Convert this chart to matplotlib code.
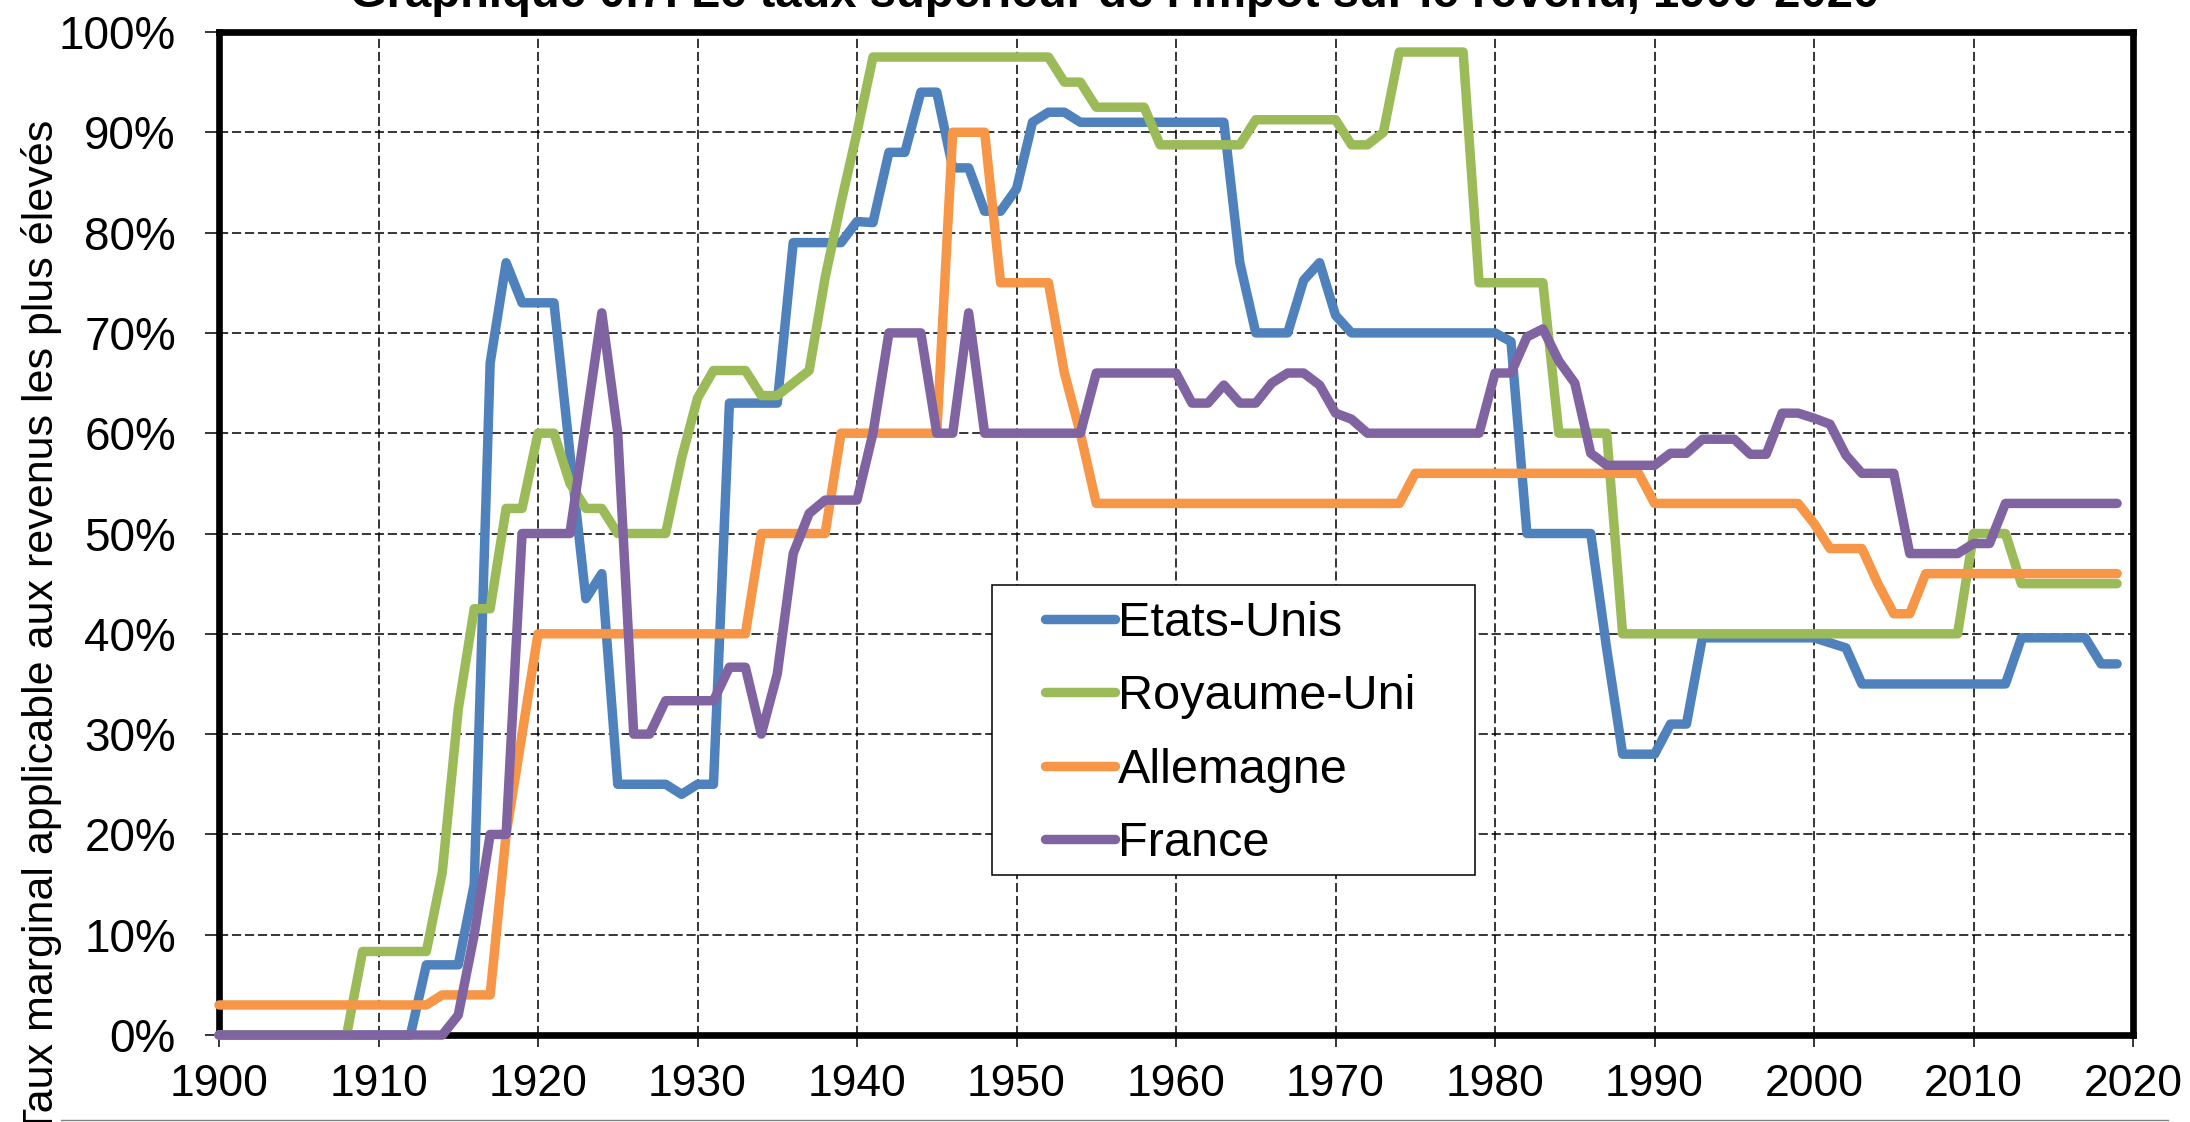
import matplotlib
matplotlib.use("Agg")
import matplotlib.pyplot as plt
from matplotlib.patches import Rectangle
from matplotlib.lines import Line2D
from matplotlib.ticker import PercentFormatter, MultipleLocator

plt.rcParams['font.family'] = ['Liberation Sans', 'DejaVu Sans']

YEARS = list(range(1900, 2020))

# taux supérieur, en %
etats_unis = [
    0, 0, 0, 0, 0, 0, 0, 0, 0, 0,
    0, 0, 0, 7, 7, 7, 15, 67, 77, 73,
    73, 73, 58, 43.5, 46, 25, 25, 25, 25, 24,
    25, 25, 63, 63, 63, 63, 79, 79, 79, 79,
    81.1, 81, 88, 88, 94, 94, 86.45, 86.45, 82.13, 82.13,
    84.36, 91, 92, 92, 91, 91, 91, 91, 91, 91,
    91, 91, 91, 91, 77, 70, 70, 70, 75.25, 77,
    71.75, 70, 70, 70, 70, 70, 70, 70, 70, 70,
    70, 69.13, 50, 50, 50, 50, 50, 38.5, 28, 28,
    28, 31, 31, 39.6, 39.6, 39.6, 39.6, 39.6, 39.6, 39.6,
    39.6, 39.1, 38.6, 35, 35, 35, 35, 35, 35, 35,
    35, 35, 35, 39.6, 39.6, 39.6, 39.6, 39.6, 37, 37,
]
royaume_uni = [
    0, 0, 0, 0, 0, 0, 0, 0, 0, 8.33,
    8.33, 8.33, 8.33, 8.33, 16.25, 32.5, 42.5, 42.5, 52.5, 52.5,
    60, 60, 55, 52.5, 52.5, 50, 50, 50, 50, 57.5,
    63.5, 66.25, 66.25, 66.25, 63.75, 63.75, 65, 66.25, 75.5, 83,
    90, 97.5, 97.5, 97.5, 97.5, 97.5, 97.5, 97.5, 97.5, 97.5,
    97.5, 97.5, 97.5, 95, 95, 92.5, 92.5, 92.5, 92.5, 88.75,
    88.75, 88.75, 88.75, 88.75, 88.75, 91.25, 91.25, 91.25, 91.25, 91.25,
    91.25, 88.75, 88.75, 90, 98, 98, 98, 98, 98, 75,
    75, 75, 75, 75, 60, 60, 60, 60, 40, 40,
    40, 40, 40, 40, 40, 40, 40, 40, 40, 40,
    40, 40, 40, 40, 40, 40, 40, 40, 40, 40,
    50, 50, 50, 45, 45, 45, 45, 45, 45, 45,
]
allemagne = [
    3, 3, 3, 3, 3, 3, 3, 3, 3, 3,
    3, 3, 3, 3, 4, 4, 4, 4, 20, 30,
    40, 40, 40, 40, 40, 40, 40, 40, 40, 40,
    40, 40, 40, 40, 50, 50, 50, 50, 50, 60,
    60, 60, 60, 60, 60, 60, 90, 90, 90, 75,
    75, 75, 75, 66, 60, 53, 53, 53, 53, 53,
    53, 53, 53, 53, 53, 53, 53, 53, 53, 53,
    53, 53, 53, 53, 53, 56, 56, 56, 56, 56,
    56, 56, 56, 56, 56, 56, 56, 56, 56, 56,
    53, 53, 53, 53, 53, 53, 53, 53, 53, 53,
    51, 48.5, 48.5, 48.5, 45, 42, 42, 46, 46, 46,
    46, 46, 46, 46, 46, 46, 46, 46, 46, 46,
]
france = [
    0, 0, 0, 0, 0, 0, 0, 0, 0, 0,
    0, 0, 0, 0, 0, 2, 10, 20, 20, 50,
    50, 50, 50, 61, 72, 60, 30, 30, 33.33, 33.33,
    33.33, 33.33, 36.67, 36.67, 30, 36, 48, 52, 53.33, 53.33,
    53.33, 60, 70, 70, 70, 60, 60, 72, 60, 60,
    60, 60, 60, 60, 60, 66, 66, 66, 66, 66,
    66, 63, 63, 64.8, 63, 63, 65, 66, 66, 64.8,
    62, 61.4, 60, 60, 60, 60, 60, 60, 60, 60,
    66, 66, 69.6, 70.4, 67.2, 65, 58, 56.8, 56.8, 56.8,
    56.8, 58, 58, 59.4, 59.4, 59.4, 57.9, 57.9, 62, 62,
    61.5, 60.9, 57.8, 56, 56, 56, 48, 48, 48, 48,
    49, 49, 53, 53, 53, 53, 53, 53, 53, 53,
]

series = {
    "Etats-Unis": (etats_unis, "#4F81BD"),
    "Royaume-Uni": (royaume_uni, "#9BBB59"),
    "Allemagne": (allemagne, "#F79646"),
    "France": (france, "#8064A2"),
}

TITLE = "Graphique 0.7. Le taux supérieur de l'impôt sur le revenu, 1900-2020"
YLABEL = "Taux marginal applicable aux revenus les plus élevés"

fig = plt.figure(figsize=(21.9, 11.22), dpi=100)
ax = fig.add_axes([0.1, 0.0775, 0.874, 0.894])

for label, (values, color) in series.items():
    ax.plot(YEARS, values, color=color, lw=6.8, label=label, zorder=3,
            clip_on=False, solid_joinstyle='round', solid_capstyle='round')

ax.set_xlim(1900, 2020)
ax.set_ylim(0, 100)
ax.xaxis.set_major_locator(MultipleLocator(10))
ax.yaxis.set_major_locator(MultipleLocator(10))
ax.yaxis.set_major_formatter(PercentFormatter(xmax=100, decimals=0))

ax.set_axisbelow(True)
ax.grid(True, color='black', lw=1.1, ls=(0, (6, 2.5)))
for sp in ax.spines.values():
    sp.set_linewidth(4.8)
    sp.set_color('black')

ax.tick_params(axis='y', direction='out', length=10, width=1.1, pad=21,
               labelsize=33)
ax.tick_params(axis='x', direction='out', length=8.6, width=1.1, pad=12,
               labelsize=32)

# cadre de la légende
ax.add_patch(Rectangle((0.404, 0.1595), 0.252, 0.2895, transform=ax.transAxes,
                       facecolor='white', edgecolor='black', lw=1.1, zorder=5))
handles = [Line2D([], [], color=c, lw=6.8, solid_capstyle='round')
           for _, (v, c) in series.items()]
ax.legend(handles, list(series.keys()), loc='upper left',
          bbox_to_anchor=(0.4316, 0.4325), frameon=False, fontsize=35,
          borderpad=0, borderaxespad=0, handlelength=1.44, handletextpad=0.05,
          labelspacing=0.58).set_zorder(6)

fig.text(0.019, 0.441, YLABEL, rotation=90, ha='center', va='center',
         fontsize=31)
fig.text(0.509, 1 - 7 / 1122, TITLE, ha='center', va='baseline', fontsize=34,
         fontweight='bold')
fig.add_artist(Line2D([0.028, 0.99], [0.0022, 0.0022], color='#808080', lw=1,
                      transform=fig.transFigure))

fig.savefig("out.png", dpi=100)
